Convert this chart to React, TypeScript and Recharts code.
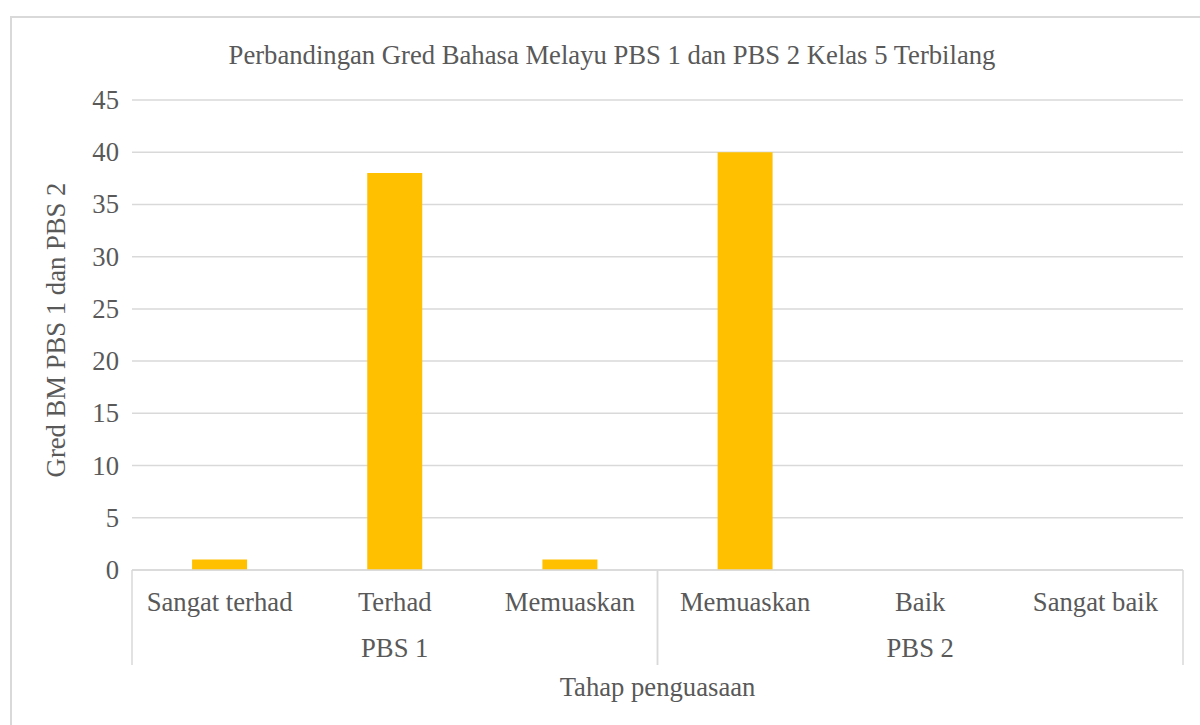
import React from "react";
import { BarChart, Bar, XAxis, YAxis, CartesianGrid, Customized } from "recharts";

const CATEGORIES = ["Sangat terhad", "Terhad", "Memuaskan", "Memuaskan", "Baik", "Sangat baik"];
const GROUPS = ["PBS 1", "PBS 1", "PBS 1", "PBS 2", "PBS 2", "PBS 2"];
const VALUES = [1, 38, 1, 40, 0, 0];
const Y_TICKS = [0, 5, 10, 15, 20, 25, 30, 35, 40, 45];

const TITLE = "Perbandingan Gred Bahasa Melayu PBS 1 dan PBS 2 Kelas 5 Terbilang";
const Y_TITLE = "Gred BM PBS 1 dan PBS 2";
const X_TITLE = "Tahap penguasaan";

const data = CATEGORIES.map((c, i) => ({ id: `${GROUPS[i]}|${c}|${i}`, category: c, group: GROUPS[i], value: VALUES[i] }));

const W = 1200;
const H = 710;
const M_LEFT = 0;
const Y_AXIS_W = 120;
const M_RIGHT = 29;
const M_TOP = 82;
const X_AXIS_H = 158;
const PLOT_L = M_LEFT + Y_AXIS_W;
const PLOT_R = W - M_RIGHT;
const PLOT_B = H - X_AXIS_H;
const BAND = (PLOT_R - PLOT_L) / CATEGORIES.length;

const FONT = '"Liberation Serif", "DejaVu Serif", serif';
const TXT = "#595959";
const GRID = "#d9d9d9";
const TS: React.CSSProperties = { fontFamily: FONT, fontSize: 26.67, fill: TXT };

function XTick(props: any) {
  const { x, index } = props;
  const i = index as number;
  const g = GROUPS[i];
  const first = GROUPS.indexOf(g);
  const last = GROUPS.lastIndexOf(g);
  const els: React.ReactNode[] = [];
  els.push(
    <text key="c" x={x} y={PLOT_B + 32} textAnchor="middle" dominantBaseline="central" style={TS}>
      {CATEGORIES[i]}
    </text>
  );
  if (i === first) {
    els.push(<line key="sl" x1={x - BAND / 2} x2={x - BAND / 2} y1={PLOT_B} y2={PLOT_B + 95} stroke={GRID} strokeWidth={1.5} />);
    els.push(
      <text key="g" x={x + ((first + last) / 2 - i) * BAND} y={PLOT_B + 78} textAnchor="middle" dominantBaseline="central" style={TS}>
        {g}
      </text>
    );
  }
  if (i === last) {
    els.push(<line key="sr" x1={x + BAND / 2} x2={x + BAND / 2} y1={PLOT_B} y2={PLOT_B + 95} stroke={GRID} strokeWidth={1.5} />);
  }
  return <g>{els}</g>;
}

function YTick(props: any) {
  const { y, payload } = props;
  return (
    <text x={PLOT_L - 13} y={y} textAnchor="end" dominantBaseline="central" style={TS}>
      {payload.value}
    </text>
  );
}

function Titles() {
  const cy = (M_TOP + PLOT_B) / 2 - 5;
  return (
    <g>
      <text x={W / 2} y={37} textAnchor="middle" dominantBaseline="central" style={TS}>
        {TITLE}
      </text>
      <text x={(PLOT_L + PLOT_R) / 2} y={669} textAnchor="middle" dominantBaseline="central" style={TS}>
        {X_TITLE}
      </text>
      <text x={44} y={cy} textAnchor="middle" dominantBaseline="central" style={TS} transform={`rotate(-90 44 ${cy})`}>
        {Y_TITLE}
      </text>
    </g>
  );
}

export default function App() {
  return (
    <div style={{ position: "fixed", left: 0, top: 0, width: 1200, height: 725, overflow: "hidden", background: "#fff", fontFamily: FONT }}>
      <div style={{ position: "absolute", left: 10, top: 16, width: 1210, height: 730, border: `2px solid ${GRID}`, background: "#fff" }}>
        <BarChart width={W} height={H} data={data} margin={{ top: M_TOP, right: M_RIGHT, bottom: 0, left: M_LEFT }} barCategoryGap="34.3%">
          <CartesianGrid vertical={false} stroke={GRID} strokeWidth={1.5} />
          <XAxis dataKey="id" interval={0} height={X_AXIS_H} tick={<XTick />} tickLine={false} axisLine={{ stroke: GRID, strokeWidth: 1.5 }} />
          <YAxis width={Y_AXIS_W} domain={[0, 45]} ticks={Y_TICKS} interval={0} tick={<YTick />} tickLine={false} axisLine={false} />
          <Bar dataKey="value" fill="#FFC000" isAnimationActive={false} />
          <Customized component={Titles} />
        </BarChart>
      </div>
    </div>
  );
}
